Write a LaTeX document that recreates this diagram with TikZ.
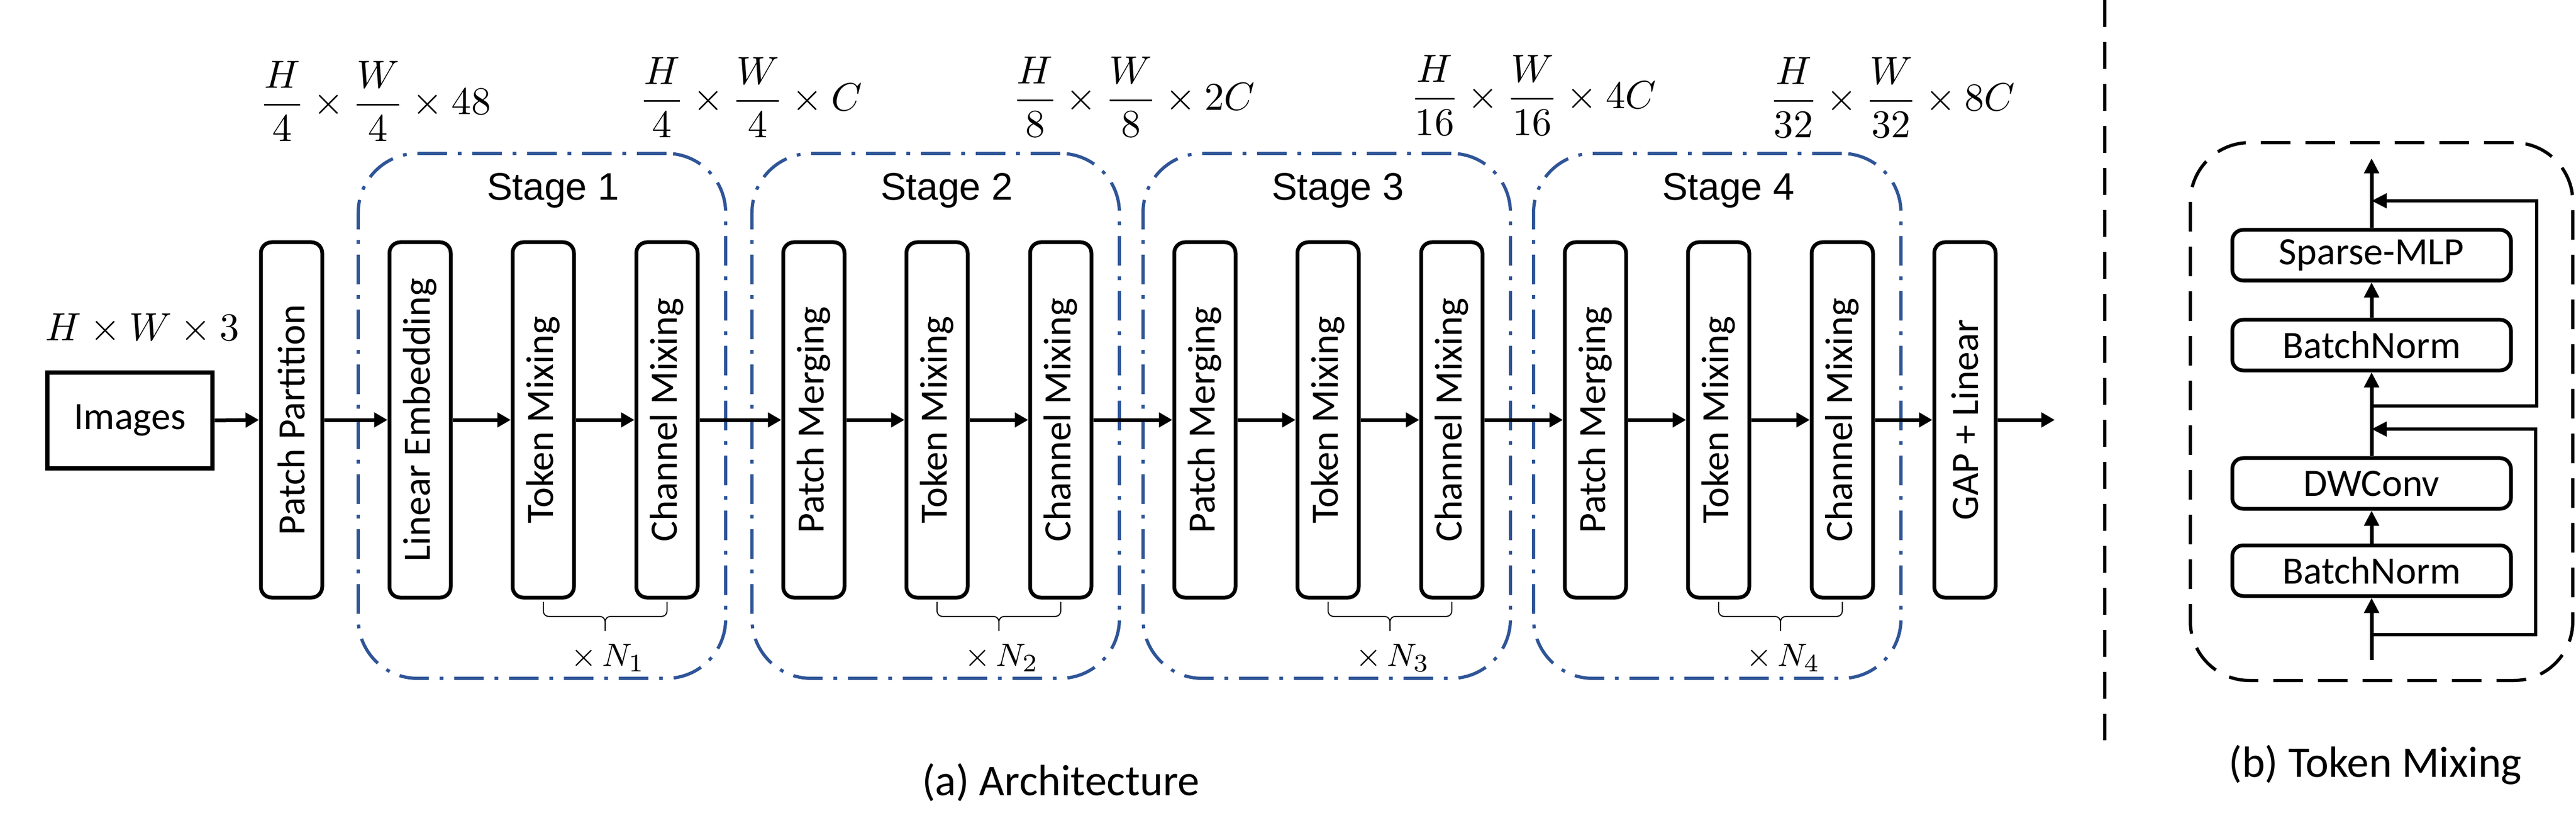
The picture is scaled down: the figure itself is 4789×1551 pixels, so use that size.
\documentclass[tikz,border=0pt]{standalone}
\usepackage{amsmath}
\usepackage{fontspec}
\usepackage{graphicx}
\newfontfamily\calfont{Carlito}
\newfontfamily\arialfont{Liberation Sans}
\usetikzlibrary{arrows.meta}
\definecolor{stageblue}{RGB}{47,85,151}
\begin{document}
\begin{tikzpicture}[x=0.15pt, y=-0.15pt,
  blk/.style={draw, line width=1.05pt, rounded corners=3pt, minimum width=17.1pt, minimum height=99pt, inner sep=0pt, font=\calfont\fontsize{10.8}{12}\selectfont},
  stg/.style={draw=stageblue, line width=0.9pt, rounded corners=16.5pt, dash pattern=on 8.25pt off 3pt on 1.05pt off 3pt, minimum width=102.45pt, minimum height=146.25pt, inner sep=0pt},
  stglabel/.style={font=\arialfont\fontsize{10.7}{12}\selectfont},
  arr/.style={line width=1.05pt, -{Triangle[length=3.75pt, width=4pt]}},
  brc/.style={line width=0.3pt, rounded corners=1.5pt},
  rep/.style={font=\fontsize{9.5}{11}\selectfont},
  dim/.style={font=\fontsize{11}{13}\selectfont},
  bblk/.style={draw, line width=1.05pt, rounded corners=3pt, minimum width=77.7pt, minimum height=14.1pt, inner sep=0pt, font=\calfont\fontsize{10.8}{12}\selectfont},
  barr/.style={line width=1.05pt, -{Triangle[length=4.2pt, width=4pt]}},
  sarr/.style={line width=0.9pt, -{Triangle[length=4.2pt, width=4pt]}},
  captxt/.style={font=\calfont\fontsize{12.2}{14}\selectfont}
]
\fill[white] (0,0) rectangle (4789,1551);
\useasboundingbox (0,0) rectangle (4789,1551);

% ---------- stage frames ----------
\node[stg] (s1) at (1007.5,772.5) {};
\node[stg] (s2) at (1739.5,772.5) {};
\node[stg] (s3) at (2466.5,772.5) {};
\node[stg] (s4) at (3192.5,772.5) {};
\node[stglabel] (l1) at (1028,354) {Stage 1};
\node[stglabel] (l2) at (1760,354) {Stage 2};
\node[stglabel] (l3) at (2487,354) {Stage 3};
\node[stglabel] (l4) at (3213,354) {Stage 4};

% ---------- input ----------
\node[draw, line width=1.3pt, minimum width=46.05pt, minimum height=26.7pt, inner sep=0pt, font=\calfont\fontsize{10.8}{12}\selectfont] (img) at (241.5,781) {Images};
\node[dim] (d0) at (265,611) {$H\times W\times 3$};

% ---------- blocks ----------
\node[blk] (pp) at (542,780) {\rotatebox{90}{Patch Partition}};
\node[blk] (le) at (781,780) {\rotatebox{90}{Linear Embedding}};
\node[blk] (tm1) at (1010,780) {\rotatebox{90}{Token Mixing}};
\node[blk] (cm1) at (1240,780) {\rotatebox{90}{Channel Mixing}};
\node[blk] (pm2) at (1513,780) {\rotatebox{90}{Patch Merging}};
\node[blk] (tm2) at (1742,780) {\rotatebox{90}{Token Mixing}};
\node[blk] (cm2) at (1972,780) {\rotatebox{90}{Channel Mixing}};
\node[blk] (pm3) at (2240,780) {\rotatebox{90}{Patch Merging}};
\node[blk] (tm3) at (2469,780) {\rotatebox{90}{Token Mixing}};
\node[blk] (cm3) at (2699,780) {\rotatebox{90}{Channel Mixing}};
\node[blk] (pm4) at (2966,780) {\rotatebox{90}{Patch Merging}};
\node[blk] (tm4) at (3195,780) {\rotatebox{90}{Token Mixing}};
\node[blk] (cm4) at (3425,780) {\rotatebox{90}{Channel Mixing}};
\node[blk] (gap) at (3653,780) {\rotatebox{90}{GAP + Linear}};
\coordinate (outa) at (3820,780);

% ---------- arrows ----------
\draw[arr] (img.east) -- (pp.west);
\draw[arr] (pp.east) -- (le.west);
\draw[arr] (le.east) -- (tm1.west);
\draw[arr] (tm1.east) -- (cm1.west);
\draw[arr] (cm1.east) -- (pm2.west);
\draw[arr] (pm2.east) -- (tm2.west);
\draw[arr] (tm2.east) -- (cm2.west);
\draw[arr] (cm2.east) -- (pm3.west);
\draw[arr] (pm3.east) -- (tm3.west);
\draw[arr] (tm3.east) -- (cm3.west);
\draw[arr] (cm3.east) -- (pm4.west);
\draw[arr] (pm4.east) -- (tm4.west);
\draw[arr] (tm4.east) -- (cm4.west);
\draw[arr] (cm4.east) -- (gap.west);
\draw[arr] (gap.east) -- (outa);

% ---------- braces and repeat counts ----------
\foreach \a/\b/\m/\k in {1010/1240/1125/1, 1742/1972/1857/2, 2469/2699/2584/3, 3195/3425/3310/4}{
  \draw[brc] (\a,1118) -- (\a,1145) -- (\m,1145) -- (\m,1172);
  \draw[brc] (\b,1118) -- (\b,1145) -- (\m,1145) -- (\m,1172);
  \node[rep] (n\k) at ({\m+5},1222) {$\times\,N_{\k}$};
}

% ---------- dimensions ----------
\node[dim] (d1) at (698,188) {$\dfrac{H}{4}\times\dfrac{W}{4}\times 48$};
\node[dim] (d2) at (1396,181) {$\dfrac{H}{4}\times\dfrac{W}{4}\times C$};
\node[dim] (d3) at (2108,180) {$\dfrac{H}{8}\times\dfrac{W}{8}\times 2C$};
\node[dim] (d4) at (2851,177) {$\dfrac{H}{16}\times\dfrac{W}{16}\times 4C$};
\node[dim] (d5) at (3518,181) {$\dfrac{H}{32}\times\dfrac{W}{32}\times 8C$};

\node[captxt] (capa) at (1972,1453) {(a) Architecture};

% ---------- separator ----------
\coordinate (septop) at (3913,0);
\coordinate (sepbot) at (3913,1375);
\draw[line width=0.9pt, dash pattern=on 7.5pt off 4.2pt] (septop) -- (sepbot);

% ---------- (b) token mixing ----------
\node[draw, line width=0.9pt, rounded corners=16.5pt, dash pattern=on 8.25pt off 4.2pt, minimum width=106.65pt, minimum height=149.85pt, inner sep=0pt] (tmbox) at (4427.5,764.5) {};
\node[bblk] (bn1) at (4409,1060) {BatchNorm};
\node[bblk] (dw) at (4409,898) {DWConv};
\node[bblk] (bn2) at (4409,641) {BatchNorm};
\node[bblk] (mlp) at (4409,474) {Sparse-MLP};
\coordinate (bin) at (4409,1226);
\coordinate (bout) at (4409,294);
\coordinate (j1) at (4409,1179);
\coordinate (r1t) at (4714,797);
\coordinate (m1) at (4409,797);
\coordinate (j2) at (4409,754);
\coordinate (r2t) at (4716,373);
\coordinate (m2) at (4409,373);
\draw[barr] (bin) -- (bn1.south);
\draw[barr] (bn1.north) -- (dw.south);
\draw[barr] (dw.north) -- (bn2.south);
\draw[barr] (bn2.north) -- (mlp.south);
\draw[barr] (mlp.north) -- (bout);
\draw[sarr] (j1) -| (r1t) -- (m1);
\draw[sarr] (j2) -| (r2t) -- (m2);

\node[captxt] (capb) at (4416,1421) {(b) Token Mixing};
\end{tikzpicture}
\end{document}
